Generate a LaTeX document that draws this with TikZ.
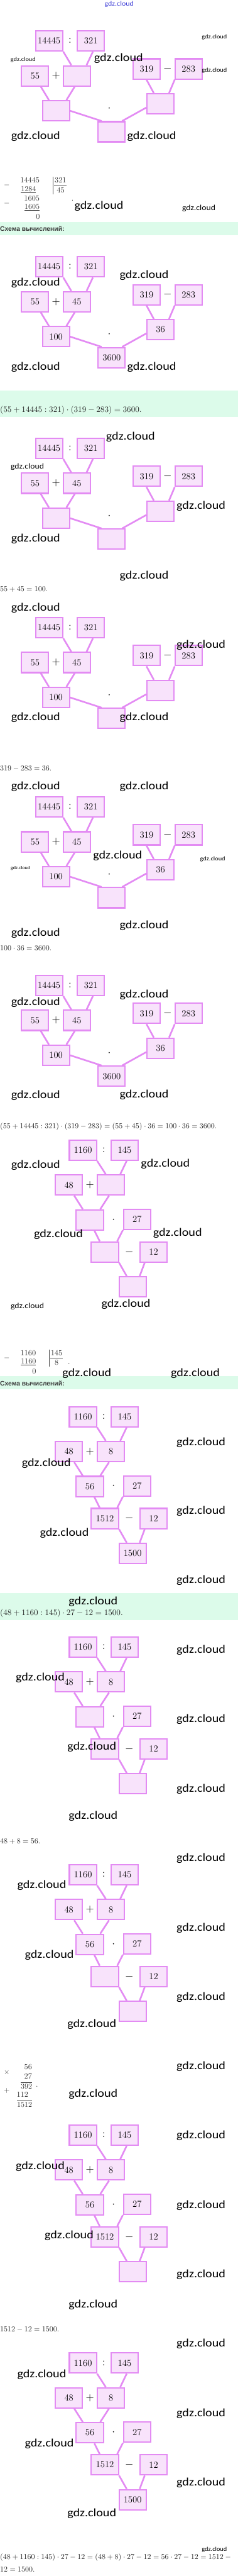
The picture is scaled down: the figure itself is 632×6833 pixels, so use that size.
\documentclass[tikz,border=0pt]{standalone}
\usepackage{fontspec}
\usepackage{graphicx}
\newfontfamily\wmfont{Carlito}
\newfontfamily\headfont{Liberation Sans}
\usetikzlibrary{positioning, calc}
\definecolor{schemeviolet}{HTML}{E38BF3}
\definecolor{schemefill}{HTML}{F8E3FB}
\definecolor{bandgreen}{HTML}{DCFBEA}
\definecolor{headgray}{HTML}{3A3A3A}
\definecolor{logoblue}{HTML}{3A3AD6}
\tikzset{
  numbox/.style  = {rectangle, draw=schemeviolet, line width=1.75pt, fill=schemefill,
                    minimum width=36pt, minimum height=26.75pt, inner sep=0pt,
                    font=\fontsize{12.25}{14}\selectfont},
  op/.style      = {inner sep=0pt, font=\fontsize{15}{16}\selectfont},
  link/.style    = {draw=schemeviolet, line width=2.2pt},
  band/.style    = {fill=bandgreen, draw=none},
  head/.style    = {anchor=west, inner sep=0pt, text=headgray,
                    font=\headfont\bfseries\fontsize{8.6}{10}\selectfont},
  sumline/.style = {anchor=west, inner sep=0pt, text=black!85,
                    font=\fontsize{10}{12}\selectfont},
  answer/.style  = {sumline, font=\fontsize{10.85}{13}\selectfont},
  digits/.style  = {inner sep=0pt, text=black!80, font=\fontsize{10.25}{12}\selectfont},
  rule/.style    = {draw=black!70, line width=0.5pt},
  logo/.style    = {inner sep=0pt, text=logoblue, font=\wmfont\fontsize{8.9}{10}\selectfont},
  wmbig/.style   = {inner sep=0pt, font=\wmfont\fontsize{15}{16}\selectfont},
  wmmid/.style   = {inner sep=0pt, font=\wmfont\fontsize{10.2}{11}\selectfont},
  wmsmall/.style = {inner sep=0pt, font=\wmfont\fontsize{7.7}{8}\selectfont},
  wmtiny/.style  = {inner sep=0pt, font=\wmfont\fontsize{6}{7}\selectfont},
}
\newcommand{\gdz}{\scalebox{1.12}[1]{gdz.cloud}}

% scheme of (55 + 14445 : 321) * (319 - 283)
\newcommand{\schemeA}[6]{%
  \begin{scope}[shift={(0,#2)}]
    \node (#1a) [numbox] at (130.4,28.5)  {14445};
    \node (#1b) [numbox] at (241.5,28.5)  {321};
    \node (#1c) [numbox] at (93.1,121.2)  {55};
    \node (#1d) [numbox] at (204.2,121.2) {#3};
    \node (#1e) [numbox] at (389.4,102.7) {319};
    \node (#1f) [numbox] at (500.9,102.7) {283};
    \node (#1g) [numbox] at (148.7,213.9) {#4};
    \node (#1h) [numbox] at (426.3,195.4) {#5};
    \node (#1i) [numbox] at (296.7,269.5) {#6};
    \node (#1o1) [op] at ($(#1a.east)!0.5!(#1b.west)$) {$:$};
    \node (#1o2) [op] at ($(#1c.east)!0.5!(#1d.west)$) {$+$};
    \node (#1o3) [op] at ($(#1e.east)!0.5!(#1f.west)$) {$-$};
    \node (#1o4) [op] at (290.2,208.3) {$\cdot$};
    \draw [link] (#1a.south east) -- ($(#1d.north west)+(23,0)$);
    \draw [link] ($(#1b.south west)+(43,0)$) -- ($(#1d.north east)+(-12,0)$);
    \draw [link] ($(#1c.south west)+(53,0)$) -- ($(#1g.north west)+(19,0)$);
    \draw [link] ($(#1d.south west)+(32,0)$) -- ($(#1g.north east)+(-10,0)$);
    \draw [link] ($(#1e.south west)+(37.5,0)$) -- ($(#1h.north west)+(20,0)$);
    \draw [link] ($(#1f.south west)+(1,0)$) -- ($(#1h.north east)+(-15,0)$);
    \draw [link] (#1g.east) -- ($(#1i.north west)+(11,0)$);
    \draw [link] ($(#1h.west)+(0,10)$) -- ($(#1i.north east)+(-10,0)$);
  \end{scope}}

% scheme of (48 + 1160 : 145) * 27 - 12
\newcommand{\schemeB}[6]{%
  \begin{scope}[shift={(0,#2)}]
    \node (#1p) [numbox] at (220.3,28.2)  {1160};
    \node (#1q) [numbox] at (331.2,28.2)  {145};
    \node (#1r) [numbox] at (183,120.5)   {48};
    \node (#1s) [numbox] at (294.7,120.5) {#3};
    \node (#1t) [numbox] at (238.6,213.1) {#4};
    \node (#1u) [numbox] at (364.2,211.7) {27};
    \node (#1v) [numbox] at (278.6,298.2) {#5};
    \node (#1w) [numbox] at (408.1,298.2) {12};
    \node (#1x) [numbox] at (352.3,390.7) {#6};
    \node (#1o1) [op] at ($(#1p.east)!0.5!(#1q.west)$) {$:$};
    \node (#1o2) [op] at ($(#1r.east)!0.5!(#1s.west)$) {$+$};
    \node (#1o3) [op] at ($(#1t.east)!0.5!(#1u.west)$) {$\cdot$};
    \node (#1o4) [op] at ($(#1v.east)!0.5!(#1w.west)$) {$-$};
    \draw [link] (#1p.south east) -- ($(#1s.north west)+(24,0)$);
    \draw [link] ($(#1q.south west)+(43,0)$) -- ($(#1s.north east)+(-13,0)$);
    \draw [link] ($(#1r.south west)+(52,0)$) -- ($(#1t.north west)+(19,0)$);
    \draw [link] ($(#1s.south west)+(32.6,0)$) -- ($(#1t.north east)+(-10,0)$);
    \draw [link] ($(#1t.south west)+(50,0)$) -- ($(#1v.north west)+(24,0)$);
    \draw [link] (#1u.south west) -- ($(#1v.north east)+(-5,0)$);
    \draw [link] (#1v.south east) -- ($(#1x.north west)+(22,0)$);
    \draw [link] ($(#1w.south west)+(14,0)$) -- ($(#1x.north east)+(-19,0)$);
  \end{scope}}

\begin{document}
\begin{tikzpicture}[x=0.5pt, y=-0.5pt]
\useasboundingbox (0,0) rectangle (632,6833);

% green bands
\fill [band] (0,588.2) rectangle (632,624.5);
\fill [band] (0,1035.3) rectangle (632,1106.2);
\fill [band] (0,3650.8) rectangle (632,3685.4);
\fill [band] (0,4226.3) rectangle (632,4297.2);

\node (logo) [logo] at (316.6,11) {\gdz};

% first task
\schemeA{s1}{80}{}{}{}{}

% 14445 : 321 in a column
\node (q1m1) [digits] at (18.1,490.7) {$-$};
\node (q1m2) [digits] at (18.1,539.8) {$-$};
\node (q1n1) [digits, anchor=east] at (105.6,478)   {14445};
\node (q1n2) [digits, anchor=east] at (95.9,503.4)  {$\underline{1284}$};
\node (q1n3) [digits, anchor=east] at (105.6,526.4) {1605};
\node (q1n4) [digits, anchor=east] at (105.6,550.7) {$\underline{1605}$};
\node (q1n5) [digits] at (100.8,575.5) {0};
\node (q1d)  [digits] at (160.8,477.3) {321};
\node (q1q)  [digits] at (161.2,504.5) {45};
\node (q1pt) [digits] at (192.7,532.5) {.};
\draw [rule] (139.9,469) -- (139.9,516);
\draw [rule] ($(q1d.west)+(-1,15.2)$) -- ($(q1d.east)+(1,15.2)$);

\node (head1) [head] at (0,606.4) {Схема вычислений:};
\schemeA{s2}{679.1}{45}{100}{36}{3600}
\node (sum1) [answer] at (0,1088) {$(55+14445:321)\cdot(319-283)=3600.$};

\schemeA{s3}{1160.7}{45}{}{}{}
\node (sum2) [sumline] at (0,1563.5) {$55+45=100.$};
\schemeA{s4}{1636.2}{45}{100}{}{}
\node (sum3) [sumline] at (0,2039) {$319-283=36.$};
\schemeA{s5}{2111.7}{45}{100}{36}{}
\node (sum4) [sumline] at (0,2514.5) {$100\cdot36=3600.$};
\schemeA{s6}{2585.3}{45}{100}{36}{3600}
\node (sum5) [sumline] at (0,2988.1) {$(55+14445:321)\cdot(319-283)=(55+45)\cdot36=100\cdot36=3600.$};

% second task
\schemeB{t1}{3022.7}{}{}{}{}

% 1160 : 145 in a column
\node (q2m1) [digits] at (18.1,3601.8) {$-$};
\node (q2n1) [digits, anchor=east] at (95.9,3589)   {1160};
\node (q2n2) [digits, anchor=east] at (95.9,3612.7) {$\underline{1160}$};
\node (q2n3) [digits] at (90.7,3637) {0};
\node (q2d)  [digits] at (150.2,3588.3) {145};
\node (q2q)  [digits] at (150.4,3614.5) {8};
\node (q2pt) [digits] at (183.4,3618.1) {.};
\draw [rule] (129.8,3580) -- (129.8,3625.4);
\draw [rule] ($(q2d.west)+(-1,13.5)$) -- ($(q2d.east)+(1,13.5)$);

\node (head2) [head] at (0,3669) {Схема вычислений:};
\schemeB{t2}{3729.7}{8}{56}{1512}{1500}
\node (sum6) [answer] at (0,4279.7) {$(48+1160:145)\cdot27-12=1500.$};

\schemeB{t3}{4340.8}{8}{}{}{}
\node (sum7) [sumline] at (0,4884.6) {$48+8=56.$};
\schemeB{t4}{4944.6}{8}{56}{}{}

% 56 * 27 in a column
\node (m1x)  [digits] at (18.1,5497.9) {$\times$};
\node (m1pl) [digits] at (18.1,5546.2) {$+$};
\node (m1a)  [digits, anchor=east] at (85.5,5482.6) {56};
\node (m1b)  [digits, anchor=east] at (85.5,5508)   {27};
\node (m1c)  [digits, anchor=east] at (85.5,5531.7) {$\overline{392}$};
\node (m1pt) [digits] at (98,5535.3) {.};
\node (m1d)  [digits, anchor=east] at (75.4,5555.3) {112};
\node (m1e)  [digits, anchor=east] at (85.5,5580)   {$\overline{1512}$};

\schemeB{t5}{5635.3}{8}{56}{1512}{}
\node (sum8) [sumline] at (0,6179.8) {$1512-12=1500.$};
\schemeB{t6}{6239.8}{8}{56}{1512}{1500}
\node (sum9)  [sumline] at (0,6783.4) {$(48+1160:145)\cdot27-12=(48+8)\cdot27-12=56\cdot27-12=1512-{}$};
\node (sum10) [sumline] at (0,6816.4) {$12=1500.$};

% watermarks
\foreach \x/\y [count=\k] in {315/155.4, 94.7/361.7, 403/361.7, 262.8/546.2, 94.7/750,
    383/730, 94.7/973.5, 403/973.5, 346.7/1159, 534/1342.6, 94.7/1430, 383/1528,
    94.7/1613.5, 534/1711, 94.7/1902.7, 383/1902.7, 94.7/2086, 383/2086, 312.4/2270,
    383/2455.4, 94.7/2474.5, 383/2639, 94.7/2658, 94.7/2905.4, 383/2903.6, 94.7/3090,
    439.4/3087.2, 155.2/3274.4, 471.6/3270.8, 334.5/3459, 230.8/3642.6, 519/3642.6,
    534/3826.2, 123/3881.6, 534/4009, 170.9/4066.3, 534/4192.6, 247.5/4249, 534/4377,
    106.8/4450, 534/4561, 243.9/4634.5, 534/4745.4, 247.5/4818, 534/4929.9,
    110.9/5001.7, 534/5114, 131/5185.4, 534/5298, 243.9/5369, 534/5481.7,
    247.5/5554.4, 534/5665.2, 106.8/5747.2, 534/5850, 183.4/5930, 534/6033.5,
    247.5/6113.5, 534/6217, 110.9/6298, 534/6402, 131/6481.8, 534/6585, 243.9/6666.7}
  \node (wb\k) [wmbig] at (\x,\y) {\gdz};
\foreach \x/\y [count=\k] in {528/553.5, 72.6/1238, 72.6/3465.5}
  \node (wm\k) [wmmid] at (\x,\y) {\gdz};
\foreach \x/\y [count=\k] in {569.5/99, 61.5/159, 569.5/186.3, 565/2279, 569.5/6762.7}
  \node (ws\k) [wmsmall] at (\x,\y) {\gdz};
\node (wt1) [wmtiny] at (54.4,2302.4) {\gdz};

\end{tikzpicture}
\end{document}
